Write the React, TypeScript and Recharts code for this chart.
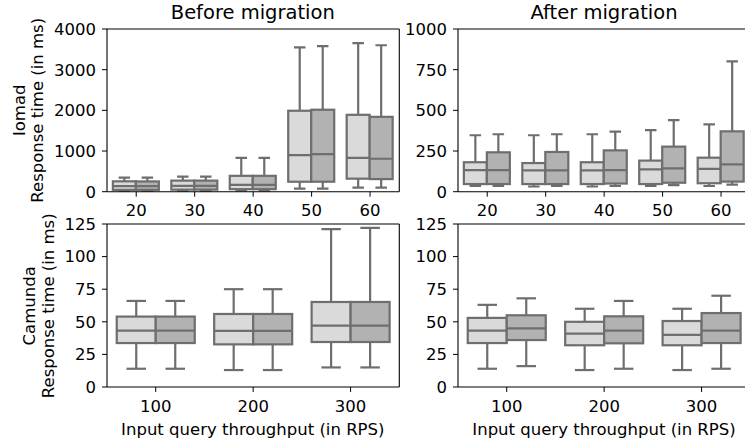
import React from 'react';
import { ComposedChart, Bar, XAxis, YAxis, CartesianGrid } from 'recharts';

type Stats = [number, number, number, number, number]; // min, q1, median, q3, max

const iomadCats = ['20', '30', '40', '50', '60'];
const camundaCats = ['100', '200', '300'];

const iomadBeforeA: Stats[] = [
  [20, 45, 135, 255, 345],
  [20, 50, 145, 272, 372],
  [25, 62, 170, 390, 830],
  [75, 245, 900, 1990, 3550],
  [100, 320, 830, 1890, 3655],
];
const iomadBeforeB: Stats[] = [
  [20, 45, 135, 252, 345],
  [20, 50, 145, 272, 372],
  [25, 62, 170, 390, 830],
  [75, 245, 925, 2015, 3580],
  [100, 310, 810, 1840, 3600],
];
const iomadAfterA: Stats[] = [
  [35, 47, 133, 181, 347],
  [32, 47, 131, 176, 347],
  [32, 47, 131, 181, 353],
  [35, 47, 137, 191, 379],
  [35, 52, 140, 209, 414],
];
const iomadAfterB: Stats[] = [
  [35, 47, 133, 242, 353],
  [35, 47, 131, 244, 353],
  [35, 50, 133, 254, 369],
  [40, 55, 143, 277, 440],
  [43, 62, 168, 371, 801],
];
const camundaBeforeA: Stats[] = [
  [14, 33.7, 43.2, 54, 66],
  [13, 32.7, 43, 56, 75],
  [15, 34.5, 47, 65.2, 121],
];
const camundaBeforeB: Stats[] = [
  [14, 33.7, 43.2, 54, 66],
  [13, 32.7, 43, 56, 75],
  [15, 34.5, 47, 65.2, 122],
];
const camundaAfterA: Stats[] = [
  [14, 33.7, 43.2, 53, 63],
  [13, 32, 41, 50, 60],
  [13, 32, 40, 50.6, 60],
];
const camundaAfterB: Stats[] = [
  [16, 36, 45, 55, 68],
  [14, 33.5, 43.2, 54.2, 66],
  [14, 33.7, 43.2, 56.7, 70],
];

const iomadTicks = [0, 1000, 2000, 3000, 4000];
const iomadAfterTicks = [0, 250, 500, 750, 1000];
const camundaTicks = [0, 25, 50, 75, 100, 125];

const LIGHT = '#dadada';
const DARK = '#b2b2b2';
const EDGE = '#6e6e6e';
const FONT = '"DejaVu Sans", sans-serif';
const FS = 16.5;

function buildRows(cats: string[], a: Stats[], b: Stats[]) {
  return cats.map((cat, i) => ({
    cat,
    a: a[i],
    b: b[i],
    aRange: [a[i][0], a[i][4]],
    bRange: [b[i][0], b[i][4]],
  }));
}

function BoxShape(props: any) {
  const { x, y, width, height, stats, fill } = props;
  if (!stats) return null;
  const [mn, q1, med, q3, mx] = stats as Stats;
  const top = Math.min(y, y + height);
  const bottom = Math.max(y, y + height);
  const py = (v: number) => bottom - ((bottom - top) * (v - mn)) / (mx - mn);
  const cx = x + width / 2;
  const cap = width / 4;
  const sw = 2.2;
  return (
    <g>
      <line x1={cx} x2={cx} y1={py(mx)} y2={py(q3)} stroke={EDGE} strokeWidth={sw} />
      <line x1={cx} x2={cx} y1={py(q1)} y2={py(mn)} stroke={EDGE} strokeWidth={sw} />
      <line x1={cx - cap} x2={cx + cap} y1={py(mx)} y2={py(mx)} stroke={EDGE} strokeWidth={sw} />
      <line x1={cx - cap} x2={cx + cap} y1={py(mn)} y2={py(mn)} stroke={EDGE} strokeWidth={sw} />
      <rect x={x} y={py(q3)} width={width} height={py(q1) - py(q3)} fill={fill} stroke={EDGE} strokeWidth={sw} />
      <line x1={x} x2={x + width} y1={py(med)} y2={py(med)} stroke={EDGE} strokeWidth={sw} />
    </g>
  );
}

const Y_W = 60;
const X_H = 40;
const M_T = 15;
const M_R = 10;

function Panel(props: {
  left: number;
  top: number;
  w: number;
  h: number;
  rows: any[];
  ticks: number[];
  rightSpine: boolean;
}) {
  const { left, top, w, h, rows, ticks, rightSpine } = props;
  const cw = w + Y_W + M_R;
  const ch = h + M_T + X_H;
  const tickStyle = { fill: '#000', fontSize: FS, fontFamily: FONT };
  return (
    <div style={{ position: 'absolute', left: left - Y_W, top: top - M_T, width: cw, height: ch }}>
      <ComposedChart
        width={cw}
        height={ch}
        data={rows}
        margin={{ top: M_T, right: M_R, bottom: 0, left: 0 }}
        barGap={0}
        barCategoryGap="10%"
      >
        <CartesianGrid
          stroke="#000"
          strokeWidth={1.1}
          horizontalCoordinatesGenerator={(p: any) => [p.offset.top]}
          verticalCoordinatesGenerator={(p: any) => (rightSpine ? [p.offset.left + p.offset.width] : [])}
          vertical={rightSpine}
        />
        <XAxis
          dataKey="cat"
          type="category"
          height={X_H}
          tickSize={5}
          tickMargin={8}
          tick={tickStyle}
          tickLine={{ stroke: '#000', strokeWidth: 1 }}
          axisLine={{ stroke: '#000', strokeWidth: 1.1 }}
          interval={0}
        />
        <YAxis
          type="number"
          domain={[ticks[0], ticks[ticks.length - 1]]}
          ticks={ticks}
          width={Y_W}
          tickSize={5}
          tickMargin={6}
          tick={tickStyle}
          tickLine={{ stroke: '#000', strokeWidth: 1 }}
          axisLine={{ stroke: '#000', strokeWidth: 1.1 }}
          allowDataOverflow
          interval={0}
        />
        <Bar
          dataKey="aRange"
          isAnimationActive={false}
          shape={(p: any) => <BoxShape {...p} stats={p.payload.a} fill={LIGHT} />}
        />
        <Bar
          dataKey="bRange"
          isAnimationActive={false}
          shape={(p: any) => <BoxShape {...p} stats={p.payload.b} fill={DARK} />}
        />
      </ComposedChart>
    </div>
  );
}

export default function App() {
  const PW = 292.3;
  return (
    <div
      style={{
        position: 'absolute',
        left: 0,
        top: 0,
        width: 745,
        height: 441,
        overflow: 'hidden',
        background: '#fff',
      }}
    >
      <Panel left={106.7} top={29} w={PW} h={162.7} rightSpine rows={buildRows(iomadCats, iomadBeforeA, iomadBeforeB)} ticks={iomadTicks} />
      <Panel left={457.8} top={29} w={PW} h={162.7} rightSpine={false} rows={buildRows(iomadCats, iomadAfterA, iomadAfterB)} ticks={iomadAfterTicks} />
      <Panel left={106.7} top={224.3} w={PW} h={163} rightSpine rows={buildRows(camundaCats, camundaBeforeA, camundaBeforeB)} ticks={camundaTicks} />
      <Panel left={457.8} top={224.3} w={PW} h={163} rightSpine={false} rows={buildRows(camundaCats, camundaAfterA, camundaAfterB)} ticks={camundaTicks} />
      <svg
        width={745}
        height={441}
        style={{ position: 'absolute', left: 0, top: 0, pointerEvents: 'none', fontFamily: FONT }}
      >
        <text x={252.8} y={12.5} fontSize={19.5} textAnchor="middle" dominantBaseline="central" fill="#000">
          Before migration
        </text>
        <text x={604} y={12.5} fontSize={19.5} textAnchor="middle" dominantBaseline="central" fill="#000">
          After migration
        </text>
        <g transform="translate(19,110.3) rotate(-90)">
          <text x={0} y={0} fontSize={FS} textAnchor="middle" dominantBaseline="central" fill="#000">Iomad</text>
        </g>
        <g transform="translate(37.8,110.3) rotate(-90)">
          <text x={0} y={0} fontSize={FS} textAnchor="middle" dominantBaseline="central" fill="#000">Response time (in ms)</text>
        </g>
        <g transform="translate(29.2,305.8) rotate(-90)">
          <text x={0} y={0} fontSize={FS} textAnchor="middle" dominantBaseline="central" fill="#000">Camunda</text>
        </g>
        <g transform="translate(48.3,305.8) rotate(-90)">
          <text x={0} y={0} fontSize={FS} textAnchor="middle" dominantBaseline="central" fill="#000">Response time (in ms)</text>
        </g>
        <text x={252.8} y={429.3} fontSize={FS} textAnchor="middle" dominantBaseline="central" fill="#000">
          Input query throughput (in RPS)
        </text>
        <text x={604} y={429.3} fontSize={FS} textAnchor="middle" dominantBaseline="central" fill="#000">
          Input query throughput (in RPS)
        </text>
      </svg>
    </div>
  );
}
